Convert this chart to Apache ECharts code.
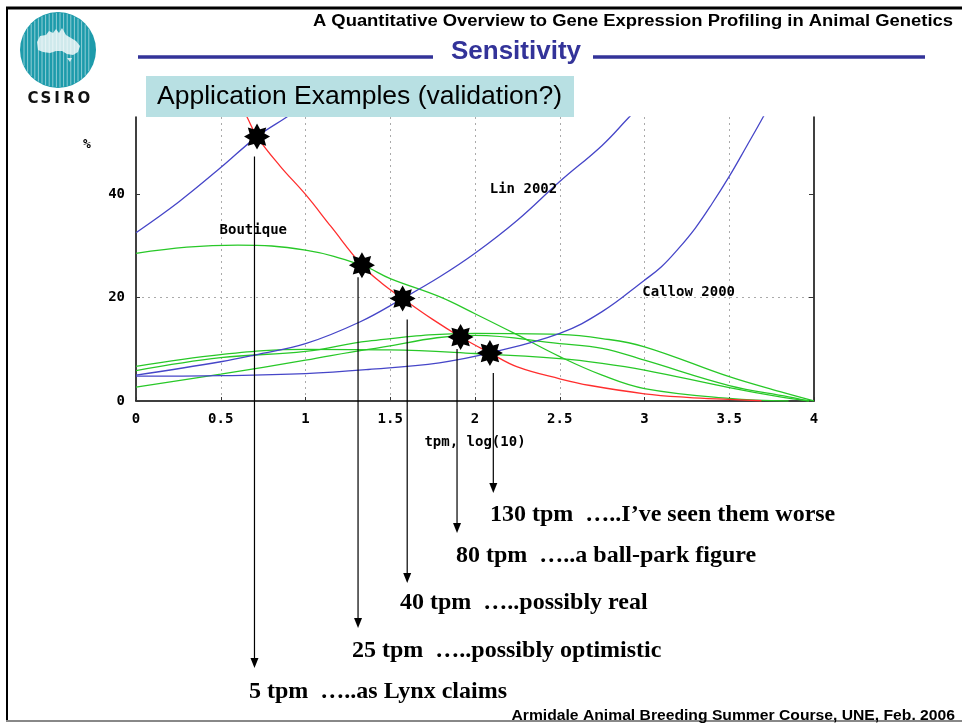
<!DOCTYPE html>
<html><head><meta charset="utf-8">
<script src="https://cdn.jsdelivr.net/npm/echarts@6/dist/echarts.min.js"></script>
<style>html,body{margin:0;padding:0;background:#fff;}#c{width:962px;height:725px;}</style>
</head><body><div id="c"></div>
<script>
// ---------- data ----------
const xTicks = [0, 0.5, 1, 1.5, 2, 2.5, 3, 3.5, 4];
const yTicks = [0, 20, 40];
const redCurve = [[0.62,57.2],[0.655,55],[0.714,51.2],[0.85,45.5],[1.0,40],[1.15,33.8],[1.333,26.3],[1.45,22.8],[1.573,19.85],[1.75,15.8],[1.915,12.4],[2.088,9.3],[2.25,6.6],[2.5,4.3],[2.68,3.0],[3.0,1.4],[3.25,0.7],[3.5,0.3],[3.69,0.05]];
const blueHigh = [[0,32.6],[0.25,38.5],[0.5,45.2],[0.714,51.2],[0.89,55],[0.95,56.4]];
const blueLin = [[0,5.0],[0.5,7.6],[0.7,8.9],[1.0,11.1],[1.32,15.3],[1.573,19.85],[1.79,24.0],[2.0,28.6],[2.25,35.0],[2.5,42.5],[2.75,49.5],[2.91,55],[3.0,58]];
const blueCallow = [[0,4.8],[0.5,4.9],[1.0,5.3],[1.37,6.1],[1.79,7.4],[2.088,9.3],[2.5,13.1],[2.75,17.3],[3.0,23.4],[3.1,26.0],[3.2,29.5],[3.3,33.5],[3.4,38.3],[3.5,43.5],[3.6,49.2],[3.7,55],[3.78,60]];
const greenBoutique = [[0,28.6],[0.3,29.8],[0.6,30.2],[1.0,29.2],[1.333,26.3],[1.5,23.7],[1.79,20.2],[2.0,16.9],[2.25,12.8],[2.5,8.6],[2.75,5.0],[3.0,2.4],[3.5,0.5],[3.85,0]];
const greenA = [[0,6.7],[0.5,9.0],[1.0,10.0],[1.5,9.9],[2.0,9.2],[2.5,8.2],[2.75,7.3],[3.0,6.0],[3.5,2.6],[3.8,0.8],[3.97,0]];
const greenB = [[0,5.9],[0.5,8.4],[1.0,9.6],[1.37,11.6],[2.0,13.1],[2.5,12.9],[2.75,12.1],[3.0,10.5],[3.5,4.7],[3.8,1.8],[4.0,0]];
const greenC = [[0,2.7],[0.5,5.2],[1.0,7.9],[1.37,10.0],[2.0,12.7],[2.5,11.1],[2.75,10.2],[3.0,7.9],[3.5,3.0],[3.85,0.8],[3.97,0]];
const starX = [0.714, 1.333, 1.573, 1.915, 2.088];
const starY = [51.2, 26.3, 19.85, 12.4, 9.3];
const curveLabels = ['Boutique', 'Lin 2002', 'Callow 2000'];
const curveLabelX = [0.496, 2.09, 2.99];
const curveLabelY = [32.9, 40.8, 20.9];
const tpmNotes = ['5 tpm  \u2026..as Lynx claims', '25 tpm  \u2026..possibly optimistic', '40 tpm  \u2026..possibly real', '80 tpm  \u2026..a ball-park figure', '130 tpm  \u2026..I\u2019ve seen them worse'];
const arrowX = [0.699, 1.31, 1.60, 1.894, 2.108];

// ---------- layout ----------
const arrowStartDy = [20, 12, 21, 12, 20];
const arrowEndY = [668, 628, 583, 533, 493];
const noteLeft = [249, 352, 400, 456, 490];
const noteMidY = [692, 651, 603, 556, 515];
const MONO = '"DejaVu Sans Mono", monospace';
const ARIAL = 'Arial, "Liberation Sans", sans-serif';
const SERIF = '"Times New Roman", "Liberation Serif", serif';

function starPath() {
  let d = '';
  for (let k = 0; k < 16; k++) {
    const a = (k * 22.5 - 90) * Math.PI / 180;
    const r = k % 2 === 0 ? 50 : 31;
    const px = (50 + r * Math.cos(a)).toFixed(2), py = (50 + r * Math.sin(a)).toFixed(2);
    d += (k === 0 ? 'M' : 'L') + px + ' ' + py + ' ';
  }
  return 'path://' + d + 'Z';
}

const lineBase = { type: 'line', showSymbol: false, symbol: 'none', smooth: 0.4, silent: true };
const RED = '#ff2e2e', BLUE = '#4646c8', GREEN = '#28c828';

const chart = echarts.init(document.getElementById('c'), null, { renderer: 'canvas' });
const option = {
  animation: false,
  backgroundColor: '#fff',
  grid: { left: 136, right: 148, top: 117, bottom: 324, containLabel: false },
  xAxis: {
    type: 'value', min: 0, max: 4, interval: 0.5,
    name: 'tpm, log(10)', nameLocation: 'middle', nameGap: 34,
    nameTextStyle: { fontFamily: MONO, fontWeight: 'bold', fontSize: 14, color: '#000' },
    axisLine: { show: true, lineStyle: { color: '#000', width: 1.5 } },
    axisTick: { show: true, inside: true, length: 4, lineStyle: { color: '#333' } },
    axisLabel: { margin: 11, fontFamily: MONO, fontWeight: 'bold', fontSize: 14, color: '#000' },
    splitLine: { show: true, showMinLine: false, showMaxLine: false, lineStyle: { color: '#aaa', type: [2, 4], width: 1 } }
  },
  yAxis: [{
    type: 'value', min: 0, max: 55, interval: 20,
    axisLine: { show: true, lineStyle: { color: '#000', width: 1.5 } },
    axisTick: { show: true, inside: true, length: 4, customValues: yTicks, lineStyle: { color: '#333' } },
    axisLabel: { margin: 11, fontFamily: MONO, fontWeight: 'bold', fontSize: 14, color: '#000', customValues: yTicks,
      formatter: v => (yTicks.indexOf(v) >= 0 ? String(v) : '') },
    splitLine: { show: true, showMinLine: false, showMaxLine: false, lineStyle: { color: '#aaa', type: [2, 4], width: 1 } }
  }, {
    type: 'value', min: 0, max: 55, interval: 20, position: 'right',
    axisLine: { show: true, lineStyle: { color: '#000', width: 1.5 } },
    axisTick: { show: true, inside: true, length: 5, customValues: [20, 40], lineStyle: { color: '#333' } },
    axisLabel: { show: false }, splitLine: { show: false }
  }],
  series: [
    Object.assign({}, lineBase, { name: 'Boutique', data: greenBoutique, lineStyle: { color: GREEN, width: 1.3 }, z: 2 }),
    Object.assign({}, lineBase, { name: 'g1', data: greenA, lineStyle: { color: GREEN, width: 1.3 }, z: 2 }),
    Object.assign({}, lineBase, { name: 'g2', data: greenB, lineStyle: { color: GREEN, width: 1.3 }, z: 2 }),
    Object.assign({}, lineBase, { name: 'g3', data: greenC, lineStyle: { color: GREEN, width: 1.3 }, z: 2 }),
    Object.assign({}, lineBase, { name: 'b0', data: blueHigh, lineStyle: { color: BLUE, width: 1.3 }, z: 3 }),
    Object.assign({}, lineBase, { name: 'Lin 2002', data: blueLin, lineStyle: { color: BLUE, width: 1.3 }, z: 3 }),
    Object.assign({}, lineBase, { name: 'Callow 2000', data: blueCallow, lineStyle: { color: BLUE, width: 1.3 }, z: 3 }),
    Object.assign({}, lineBase, { name: 'red', data: redCurve, lineStyle: { color: RED, width: 1.3 }, z: 4 }),
    {
      type: 'scatter', silent: true, symbolSize: 1, itemStyle: { color: 'rgba(0,0,0,0)', opacity: 1 },
      data: curveLabels.map((n, i) => ({ name: n, value: [curveLabelX[i], curveLabelY[i]] })),
      label: { show: true, formatter: '{b}', position: [0, 0], align: 'left', verticalAlign: 'middle',
        fontFamily: MONO, fontWeight: 'bold', fontSize: 14, color: '#000' }, z: 5
    },
    {
      type: 'scatter', silent: true, symbol: starPath(), symbolSize: 26,
      itemStyle: { color: '#000', opacity: 1 },
      data: starX.map((x, i) => [x, starY[i]]), z: 10
    }
  ]
};
chart.setOption(option);

// ---------- slide decoration & annotations ----------
const g = [];
// frame
g.push({ type: 'line', shape: { x1: 6, y1: 8, x2: 962, y2: 8 }, style: { stroke: '#000', lineWidth: 3 } });
g.push({ type: 'line', shape: { x1: 7, y1: 8, x2: 7, y2: 721 }, style: { stroke: '#000', lineWidth: 2 } });
g.push({ type: 'line', shape: { x1: 6, y1: 721, x2: 962, y2: 721 }, style: { stroke: '#888', lineWidth: 2 } });
// titles
g.push({ type: 'text', x: 953, y: 22, scaleX: 1.15, style: { text: 'A Quantitative Overview to Gene Expression Profiling in Animal Genetics',
  font: 'bold 16px ' + ARIAL, fill: '#000', align: 'right', verticalAlign: 'middle' } });
g.push({ type: 'text', x: 516, y: 52, style: { text: 'Sensitivity', font: 'bold 26px ' + ARIAL, fill: '#333399', align: 'center', verticalAlign: 'middle' } });
g.push({ type: 'line', shape: { x1: 138, y1: 57, x2: 433, y2: 57 }, style: { stroke: '#333399', lineWidth: 3.5 } });
g.push({ type: 'line', shape: { x1: 593, y1: 57, x2: 925, y2: 57 }, style: { stroke: '#333399', lineWidth: 3.5 } });
g.push({ type: 'rect', shape: { x: 146, y: 76, width: 428, height: 41 }, style: { fill: '#b8e0e3' }, z: 20 });
g.push({ type: 'text', x: 157, y: 97, style: { text: 'Application Examples (validation?)', font: '26.5px ' + ARIAL, fill: '#000', align: 'left', verticalAlign: 'middle' }, z: 21 });
// logo
g.push({ type: 'circle', shape: { cx: 58, cy: 50, r: 38 }, style: { fill: '#1d9bab' } });
g.push({ type: 'polygon', shape: { points: [[37,42],[40,36],[46,35],[49,31],[53,33],[56,29],[59,33],[62,28],[66,35],[71,38],[76,41],[80,46],[78,52],[73,55],[67,54],[62,51],[56,51],[50,53],[43,52],[38,50]] }, style: { fill: '#cfe9ec' } });
g.push({ type: 'polygon', shape: { points: [[67,58],[72,58],[70,62]] }, style: { fill: '#cfe9ec' } });
for (let x = 24; x <= 92; x += 3.6) {
  const h = Math.sqrt(Math.max(0, 38 * 38 - (x - 58) * (x - 58)));
  g.push({ type: 'line', shape: { x1: x, y1: 50 - h + 1, x2: x, y2: 50 + h - 1 }, style: { stroke: 'rgba(255,255,255,0.5)', lineWidth: 1 } });
}
const csiro = ['C', 'S', 'I', 'R', 'O'], csiroX = [33, 46, 57, 69, 84];
csiro.forEach((c, i) => g.push({ type: 'text', x: csiroX[i], y: 99, style: { text: c, font: 'bold 15px "DejaVu Sans", sans-serif', fill: '#111', align: 'center', verticalAlign: 'middle' } }));
// % label
g.push({ type: 'text', x: 87, y: 145, style: { text: '%', font: 'bold 13px ' + MONO, fill: '#000', align: 'center', verticalAlign: 'middle' } });
// arrows and notes
arrowX.forEach((ax, i) => {
  const sp = chart.convertToPixel({ gridIndex: 0 }, [starX[i], starY[i]]);
  const px = chart.convertToPixel({ gridIndex: 0 }, [ax, 0])[0];
  const y0 = sp[1] + arrowStartDy[i], y1 = arrowEndY[i];
  g.push({ type: 'line', shape: { x1: px, y1: y0, x2: px, y2: y1 - 8 }, style: { stroke: '#000', lineWidth: 1.2 }, z: 30 });
  g.push({ type: 'polygon', shape: { points: [[px - 4, y1 - 10], [px + 4, y1 - 10], [px, y1]] }, style: { fill: '#000' }, z: 30 });
  g.push({ type: 'text', x: noteLeft[i], y: noteMidY[i], style: { text: tpmNotes[i], font: 'bold 24px ' + SERIF, fill: '#000', align: 'left', verticalAlign: 'middle' }, z: 30 });
});
// footer
g.push({ type: 'text', x: 955, y: 716, scaleX: 1.12, style: { text: 'Armidale Animal Breeding Summer Course, UNE, Feb. 2006', font: 'bold 14px ' + ARIAL, fill: '#000', align: 'right', verticalAlign: 'middle' } });
chart.setOption({ graphic: { elements: g } });
</script></body></html>
